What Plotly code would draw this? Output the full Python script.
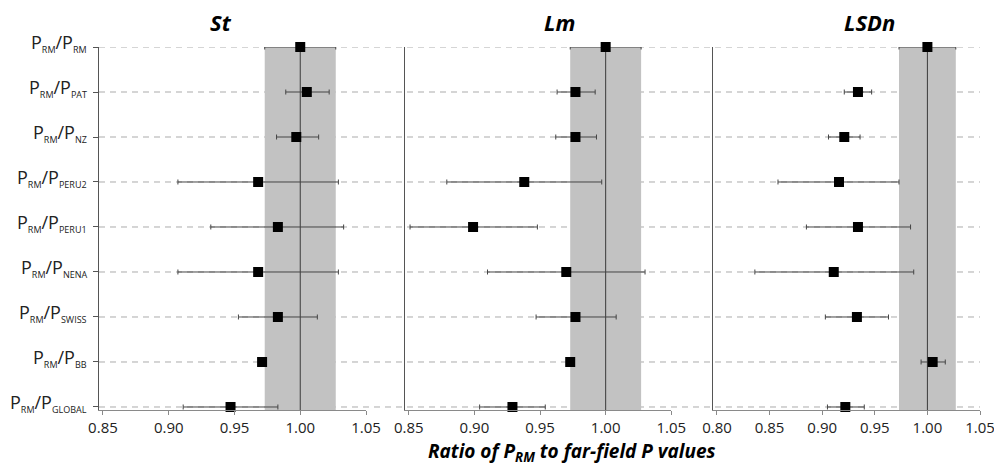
import plotly.graph_objects as go

# ---------------- data ----------------
sites = ["RM", "PAT", "NZ", "PERU2", "PERU1", "NENA", "SWISS", "BB", "GLOBAL"]
panels = ["St", "Lm", "LSDn"]

st_mean = [1.000, 1.005, 0.997, 0.968, 0.983, 0.968, 0.983, 0.971, 0.947]
st_lo   = [0.973, 0.989, 0.982, 0.907, 0.932, 0.907, 0.953, 0.969, 0.911]
st_hi   = [1.027, 1.022, 1.014, 1.029, 1.033, 1.029, 1.013, 0.973, 0.983]

lm_mean = [1.000, 0.977, 0.977, 0.938, 0.899, 0.970, 0.977, 0.973, 0.929]
lm_lo   = [0.973, 0.963, 0.962, 0.879, 0.851, 0.910, 0.947, 0.971, 0.904]
lm_hi   = [1.027, 0.992, 0.993, 0.997, 0.948, 1.030, 1.008, 0.975, 0.954]

lsdn_mean = [1.000, 0.934, 0.921, 0.916, 0.934, 0.911, 0.933, 1.005, 0.922]
lsdn_lo   = [0.973, 0.921, 0.906, 0.858, 0.885, 0.836, 0.903, 0.994, 0.905]
lsdn_hi   = [1.027, 0.947, 0.936, 0.973, 0.984, 0.987, 0.963, 1.017, 0.940]

band_lo, band_hi = 0.973, 1.027
ticks_a = [0.85, 0.90, 0.95, 1.00, 1.05]
ticks_b = [0.80, 0.85, 0.90, 0.95, 1.00, 1.05]

# ---------------- figure ----------------
FONT = "Open Sans"
n = len(sites)
ypos = [n - 1 - i for i in range(n)]
def sub(s):
    return f"<sub><span style='font-size:9px'>{s}</span></sub>"
ylabels = [f"P{sub('RM')}/P{sub(s)}" for s in sites]

W, H = 994, 467
ml, mr, mt, mb = 99, 14, 47, 57
pw = W - ml - mr
def frac(px):
    return (px - ml) / pw

domains = [[frac(99), frac(366)], [frac(404.8), frac(671.3)], [frac(713.3), frac(980)]]
ranges = [[0.847, 1.05], [0.847, 1.05], [0.7965, 1.05]]
tickvals = [ticks_a, ticks_a, ticks_b]
series = [(st_mean, st_lo, st_hi), (lm_mean, lm_lo, lm_hi), (lsdn_mean, lsdn_lo, lsdn_hi)]
yrange = [-0.067, n - 1]

fig = go.Figure()
shapes = []
annotations = []

for k, (mean, lo, hi) in enumerate(series):
    xa = "x" if k == 0 else f"x{k+1}"
    ya = "y" if k == 0 else f"y{k+1}"
    fig.add_trace(go.Scatter(
        x=mean, y=ypos, xaxis=xa, yaxis=ya, mode="markers",
        marker=dict(symbol="square", size=10, color="black"),
        error_x=dict(type="data", symmetric=False,
                     array=[h - m for h, m in zip(hi, mean)],
                     arrayminus=[m - l for m, l in zip(mean, lo)],
                     color="#444", thickness=1, width=2.5),
        cliponaxis=False, showlegend=False, hoverinfo="skip"))
    shapes.append(dict(type="rect", xref=xa, yref=ya, x0=band_lo, x1=band_hi,
                       y0=yrange[0], y1=yrange[1], fillcolor="#c2c2c2",
                       line=dict(width=0), layer="below"))

for yv in ypos:
    shapes.append(dict(type="line", xref="paper", yref="y", x0=0, x1=1, y0=yv, y1=yv,
                       line=dict(color="#ababab", width=1, dash="6px,5px"), layer="below"))

for k in range(3):
    xa = "x" if k == 0 else f"x{k+1}"
    ya = "y" if k == 0 else f"y{k+1}"
    shapes.append(dict(type="line", xref=xa, yref=ya, x0=1.0, x1=1.0,
                       y0=yrange[0], y1=yrange[1], line=dict(color="#3a3a3a", width=1),
                       layer="below"))

for k in range(3):
    sfx = "" if k == 0 else str(k + 1)
    fig.layout[f"xaxis{sfx}"] = dict(
        domain=domains[k], range=ranges[k], anchor=f"y{sfx}",
        tickvals=tickvals[k], ticktext=[f"{v:.2f}" for v in tickvals[k]],
        showline=True, linecolor="#8a8a8a", linewidth=1,
        ticks="outside", ticklen=4, tickcolor="#8a8a8a",
        showgrid=False, zeroline=False, automargin=False,
        ticklabeloverflow="allow",
        tickfont=dict(family=FONT, size=15, color="#222"))
    yax = dict(domain=[0, 1], range=yrange, anchor=f"x{sfx}",
               showline=True, linecolor="#555", linewidth=1,
               showgrid=False, zeroline=False, automargin=False,
               showticklabels=False)
    if k == 0:
        yax.update(tickvals=ypos, ticks="outside", ticklen=5, tickcolor="#555")
    else:
        yax.update(ticks="")
    fig.layout[f"yaxis{sfx}"] = yax

# row labels (left of first panel)
for yv, lab in zip(ypos, ylabels):
    annotations.append(dict(text=lab, xref="paper", yref="y", x=frac(89), y=yv,
                            xanchor="right", yanchor="middle", yshift=4, showarrow=False,
                            font=dict(family=FONT, size=18, color="#222")))

title_x = [221, 559, 869]
for k, t in enumerate(panels):
    annotations.append(dict(text=f"<b><i>{t}</i></b>", xref="paper", yref="paper",
                            x=frac(title_x[k]), y=1 + (mt - 22) / (H - mt - mb),
                            xanchor="center", yanchor="middle", showarrow=False,
                            font=dict(family=FONT, size=22, color="black")))

annotations.append(dict(text="<b><i>Ratio of P<sub>RM</sub> to far-field P values</i></b>",
                        xref="paper", yref="paper", x=frac(572),
                        y=-(452 - (H - mb)) / (H - mt - mb),
                        xanchor="center", yanchor="middle", showarrow=False,
                        font=dict(family=FONT, size=19, color="black")))

fig.update_layout(width=W, height=H, autosize=False, template="none",
                  margin=dict(l=ml, r=mr, t=mt, b=mb, autoexpand=False),
                  paper_bgcolor="white", plot_bgcolor="white",
                  shapes=shapes, annotations=annotations)

fig.write_html("out.html")
